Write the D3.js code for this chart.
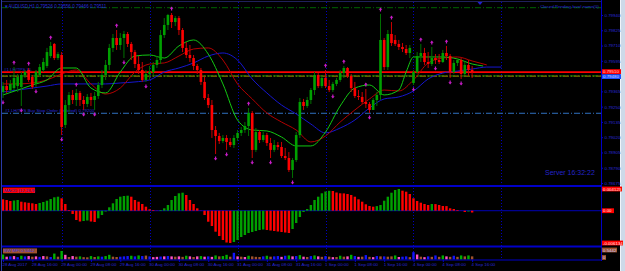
<!DOCTYPE html>
<html>
<head>
<meta charset="utf-8">
<script src="https://cdn.jsdelivr.net/npm/d3@7"></script>
<style>
  html, body { margin: 0; padding: 0; background: #000; overflow: hidden; }
  svg { display: block; }
</style>
</head>
<body>
<svg id="chart"></svg>
<script>
// AUDUSD H1, bar 0 = 28 Aug 2017 08:00 ... bar 128 = 4 Sep 2017 16:00
var open = [0.79360,0.79405,0.79375,0.79390,0.79405,0.79398,0.79488,0.79526,0.79473,0.79421,
0.79488,0.79526,0.79556,0.79631,0.79722,0.79616,0.79639,0.79112,0.79262,0.79338,
0.79300,0.79353,0.79300,0.79270,0.79323,0.79300,0.79330,0.79413,0.79488,0.79564,
0.79692,0.79767,0.79714,0.79767,0.79797,0.79722,0.79661,0.79571,0.79526,0.79451,
0.79496,0.79511,0.79564,0.79601,0.79789,0.79865,0.79940,0.79887,0.79917,0.79827,
0.79692,0.79639,0.79616,0.79556,0.79526,0.79436,0.79315,0.79262,0.79074,0.79029,
0.78991,0.79014,0.78984,0.78961,0.79014,0.79052,0.79074,0.79104,0.79202,0.78924,
0.79059,0.78999,0.79036,0.78976,0.78924,0.78961,0.78946,0.78878,0.78863,0.78773,
0.78848,0.79036,0.79285,0.79255,0.79300,0.79375,0.79488,0.79405,0.79466,0.79405,
0.79375,0.79421,0.79451,0.79503,0.79541,0.79481,0.79390,0.79330,0.79323,0.79285,
0.79270,0.79225,0.79300,0.79338,0.79752,0.79548,0.79797,0.79752,0.79722,0.79699,
0.79684,0.79654,0.79428,0.79511,0.79631,0.79654,0.79586,0.79571,0.79616,0.79601,
0.79586,0.79654,0.79631,0.79511,0.79579,0.79601,0.79496,0.79564,0.79526];
var high = [0.79436,0.79451,0.79451,0.79548,0.79496,0.79511,0.79526,0.79541,0.79488,0.79526,
0.79571,0.79616,0.79692,0.79737,0.79729,0.79661,0.79661,0.79300,0.79360,0.79375,
0.79383,0.79368,0.79330,0.79345,0.79353,0.79360,0.79436,0.79526,0.79601,0.79722,
0.79797,0.79827,0.79804,0.79820,0.79812,0.79737,0.79677,0.79631,0.79586,0.79526,
0.79556,0.79586,0.79631,0.79827,0.79917,0.79948,0.79955,0.79932,0.79932,0.79842,
0.79737,0.79714,0.79639,0.79571,0.79541,0.79473,0.79345,0.79300,0.79104,0.79052,
0.79036,0.79036,0.79014,0.79036,0.79074,0.79097,0.79134,0.79240,0.79217,0.79089,
0.79074,0.79059,0.79052,0.79014,0.78999,0.78984,0.78984,0.78939,0.78908,0.78863,
0.79059,0.79315,0.79308,0.79323,0.79390,0.79511,0.79503,0.79481,0.79526,0.79451,
0.79436,0.79466,0.79526,0.79556,0.79548,0.79496,0.79436,0.79375,0.79360,0.79383,
0.79285,0.79315,0.79360,0.79948,0.79767,0.79827,0.79887,0.79789,0.79752,0.79729,
0.79714,0.79714,0.79526,0.79661,0.79722,0.79692,0.79661,0.79699,0.79646,0.79646,
0.79677,0.79707,0.79646,0.79601,0.79616,0.79616,0.79586,0.79601,0.79556];
var low = [0.79315,0.79353,0.79360,0.79375,0.79360,0.79255,0.79466,0.79436,0.79383,0.79398,
0.79473,0.79511,0.79541,0.79616,0.79601,0.79601,0.79036,0.79089,0.79210,0.79270,
0.79255,0.79255,0.79225,0.79247,0.79255,0.79225,0.79308,0.79390,0.79451,0.79526,
0.79661,0.79677,0.79677,0.79616,0.79699,0.79601,0.79541,0.79496,0.79436,0.79436,
0.79451,0.79488,0.79541,0.79571,0.79767,0.79827,0.79842,0.79857,0.79789,0.79661,
0.79616,0.79586,0.79526,0.79496,0.79413,0.79300,0.79240,0.79014,0.78893,0.78969,
0.78976,0.78924,0.78946,0.78939,0.78991,0.79029,0.79052,0.79029,0.78863,0.78908,
0.78976,0.78984,0.78954,0.78863,0.78908,0.78924,0.78863,0.78848,0.78758,0.78713,
0.78833,0.79014,0.79225,0.79240,0.79270,0.79338,0.79390,0.79390,0.79390,0.79360,
0.79360,0.79405,0.79436,0.79466,0.79466,0.79360,0.79315,0.79300,0.79270,0.79240,
0.79202,0.79225,0.79255,0.79300,0.79526,0.79526,0.79707,0.79707,0.79677,0.79661,
0.79639,0.79616,0.79413,0.79496,0.79586,0.79564,0.79541,0.79556,0.79571,0.79571,
0.79579,0.79601,0.79466,0.79496,0.79556,0.79458,0.79488,0.79481,0.79466];
var close = [0.79405,0.79375,0.79421,0.79466,0.79473,0.79488,0.79511,0.79451,0.79398,0.79511,
0.79548,0.79586,0.79661,0.79707,0.79616,0.79646,0.79097,0.79262,0.79338,0.79300,
0.79353,0.79300,0.79270,0.79323,0.79300,0.79330,0.79413,0.79488,0.79564,0.79692,
0.79767,0.79714,0.79767,0.79797,0.79722,0.79661,0.79571,0.79526,0.79451,0.79496,
0.79511,0.79564,0.79601,0.79789,0.79865,0.79940,0.79887,0.79917,0.79827,0.79692,
0.79639,0.79616,0.79556,0.79526,0.79436,0.79315,0.79262,0.79074,0.79029,0.78991,
0.79014,0.78984,0.78961,0.79014,0.79052,0.79074,0.79104,0.79202,0.78924,0.79059,
0.78999,0.79036,0.78976,0.78924,0.78961,0.78946,0.78878,0.78863,0.78773,0.78848,
0.79036,0.79285,0.79255,0.79300,0.79375,0.79488,0.79405,0.79466,0.79405,0.79375,
0.79421,0.79451,0.79503,0.79541,0.79481,0.79390,0.79330,0.79323,0.79285,0.79270,
0.79225,0.79300,0.79338,0.79752,0.79548,0.79797,0.79729,0.79722,0.79699,0.79684,
0.79654,0.79692,0.79511,0.79631,0.79654,0.79586,0.79571,0.79616,0.79601,0.79586,
0.79654,0.79631,0.79511,0.79579,0.79601,0.79496,0.79564,0.79526,0.79511];

// alligator lines, read every few bars (jaw/teeth/lips are drawn shifted forward)
var jawIdx = [0,4,8,12,16,20,24,28,32,36,40,44,48,52,56,60,64,68,72,76,80,84,88,92,96,100,104,108,112,116,120,124,128,132,136];
var jawVal = [0.79360,0.79375,0.79390,0.79405,0.79421,0.79421,0.79421,0.79421,0.79428,0.79436,
0.79451,0.79511,0.79541,0.79579,0.79631,0.79654,0.79601,0.79458,0.79353,0.79262,
0.79195,0.79119,0.79052,0.79089,0.79149,0.79240,0.79308,0.79323,0.79368,0.79458,
0.79503,0.79518,0.79533,0.79548,0.79548];
var teethIdx = [0,4,8,12,16,20,24,28,32,36,40,44,48,52,56,60,64,68,72,76,80,84,88,92,96,100,104,108,112,116,120,124,128,132];
var teethVal = [0.79421,0.79421,0.79428,0.79451,0.79496,0.79526,0.79421,0.79345,0.79390,0.79511,
0.79571,0.79579,0.79631,0.79684,0.79692,0.79601,0.79421,0.79308,0.79202,0.79134,
0.79074,0.78984,0.79029,0.79134,0.79225,0.79308,0.79375,0.79368,0.79451,0.79579,
0.79616,0.79624,0.79594,0.79564];
var lipsIdx = [0,4,8,12,16,20,24,28,32,36,40,44,48,52,56,60,64,68,72,76,80,84,88,92,96,100,104,108,110,112,116,120,124,128,131];
var lipsVal = [0.79338,0.79375,0.79413,0.79451,0.79541,0.79541,0.79390,0.79353,0.79511,0.79631,
0.79639,0.79616,0.79707,0.79752,0.79646,0.79421,0.79149,0.79074,0.79067,0.79021,
0.78954,0.78954,0.79059,0.79255,0.79390,0.79413,0.79338,0.79375,0.79511,0.79624,
0.79624,0.79624,0.79609,0.79571,0.79556];

var fractalUp = [3,7,13,20,31,46,67,88,93,99,103,106,114,117,121];
var fractalDown = [0,5,9,16,22,25,33,39,58,61,68,73,79,90,100,112,118,122,125];

var macd = [0.002166,0.002033,0.001843,0.001938,0.002033,0.00171,0.001596,0.001501,0.001406,0.001273,
0.001463,0.001653,0.0019,0.002223,0.002546,0.00266,0.002356,0.001273,0.000133,-0.000627,
-0.001767,-0.002052,-0.001957,-0.001862,-0.002052,-0.002147,-0.001444,-0.000817,-0.000152,0.000646,
0.001406,0.002223,0.00266,0.002793,0.00285,0.00266,0.002033,0.00171,0.001273,0.00076,
0.000266,0.000133,0.000038,0.000133,0.000456,0.001083,0.002033,0.002793,0.003306,0.00342,
0.002983,0.002033,0.001273,0.000456,0.000038,-0.000817,-0.00209,-0.002907,-0.00399,-0.004807,
-0.005567,-0.006042,-0.006134,-0.005947,-0.005567,-0.004997,-0.004617,-0.004237,-0.004047,-0.003857,
-0.003667,-0.003572,-0.003667,-0.003762,-0.003857,-0.003952,-0.004047,-0.004142,-0.004237,-0.003477,
-0.002337,-0.001197,-0.000247,0.000323,0.001083,0.002033,0.00266,0.003306,0.003648,0.003781,
0.003743,0.003458,0.003306,0.003287,0.003173,0.002983,0.00266,0.002166,0.00171,0.001216,
0.000893,0.00076,0.000874,0.001083,0.0019,0.00266,0.00342,0.003933,0.004123,0.0038,
0.00361,0.003173,0.002356,0.001843,0.00152,0.001273,0.001083,0.001273,0.001254,0.001083,
0.000893,0.000874,0.000456,0.000323,0.000133,0.000019,-0.000247,-0.000152,-0.000342];

var mfi = [0.32,0.18,0.2,0.22,0.15,0.24,0.2,0.22,0.18,0.2,
0.17,0.22,0.2,0.16,0.38,0.18,0.5442,0.3,0.16,0.22,
0.18,0.2,0.15,0.14,0.22,0.16,0.2,0.18,0.22,0.3,
0.18,0.16,0.18,0.2,0.22,0.24,0.2,0.26,0.22,0.25,
0.2,0.15,0.17,0.19,0.2,0.22,0.2,0.18,0.2,0.17,
0.24,0.2,0.16,0.2,0.22,0.18,0.2,0.17,0.26,0.2,
0.22,0.3,0.18,0.43,0.2,0.18,0.16,0.24,0.2,0.17,
0.16,0.2,0.24,0.18,0.2,0.22,0.17,0.24,0.26,0.2,
0.22,0.28,0.18,0.16,0.22,0.26,0.2,0.17,0.22,0.18,
0.15,0.16,0.24,0.18,0.2,0.3,0.22,0.17,0.18,0.28,
0.17,0.15,0.22,0.2,0.2,0.18,0.2,0.26,0.16,0.18,
0.2,0.15,0.47,0.32,0.18,0.15,0.2,0.17,0.26,0.17,
0.26,0.2,0.17,0.24,0.17,0.26,0.2,0.26,0.2];
// g = green, n = fade (brown), b = fake (blue), p = squat (pink)
var mfiType = ("gpbpbgbpnp"+"bpnbgngpnp"+"ngnngngbgg"+"nnbbbgbgbn"+"bppbpbpnpn"+"gpnpgpbpgn"+
  "ggnbpnpgnn"+"nbgnbbpbgp"+"bgpnbgpnbn"+"pngnpgbpnb"+"npbnbnngpb"+"bnbpnpbnbn"+"gpnbngngn").split("");

var priceTicks = [0.79940,0.79825,0.79710,0.79595,0.79480,0.79365,0.79250,0.79135,0.79020,0.78905,0.78790,0.78675];
var timeIdx = [0,8,16,24,32,40,48,56,64,72,80,88,96,104,112,120,128];
var timeLabels = ["28 Aug 2017","28 Aug 16:00","29 Aug 00:00","29 Aug 08:00","29 Aug 16:00","30 Aug 00:00",
  "30 Aug 08:00","30 Aug 16:00","31 Aug 00:00","31 Aug 08:00","31 Aug 16:00","1 Sep 00:00",
  "1 Sep 08:00","1 Sep 16:00","4 Sep 00:00","4 Sep 08:00","4 Sep 16:00"];
var daySeparators = [16,40,64,88,112,136];

var bidPrice = 0.79510;
var levelTop = 0.79995, levelPending = 0.79480, levelStop = 0.79200;
var macdMax = 0.004123, macdMin = -0.006134, mfiMax = 0.5442;

var W = 625, H = 271;
var L = 2, R = 601;
var mainTop = 2, mainBot = 185;
var mfiBot = 260;
var FONT = "'Liberation Sans', Arial, sans-serif";
var TXT = "#2828d8";
var fmt5 = d3.format(".5f");

var svg = d3.select("#chart").attr("width", W).attr("height", H);
svg.append("rect").attr("width", W).attr("height", H).attr("fill", "#000");

var x = d3.scaleLinear().domain([0, 163]).range([3, 600.4]);
var y = d3.scaleLinear().domain([0.78675, 0.79940]).range([183, 15]);
var ym = d3.scaleLinear().domain([macdMin, macdMax]).range([243, 189]);
var yv = d3.scaleLinear().domain([0, mfiMax]).range([259.5, 251]);

svg.append("clipPath").attr("id", "clipMain").append("rect")
  .attr("x", L).attr("y", mainTop).attr("width", R - L).attr("height", mainBot - mainTop);

// day separators through all three windows
svg.append("g").selectAll("line").data(daySeparators).join("line")
  .attr("x1", d => Math.round(x(d)) + 0.5).attr("x2", d => Math.round(x(d)) + 0.5)
  .attr("y1", mainTop).attr("y2", mfiBot)
  .attr("stroke", "#0000c0").attr("stroke-dasharray", "1,2");

var main = svg.append("g").attr("clip-path", "url(#clipMain)");

// horizontal objects
function hline(p, color, dash, w, off) {
  main.append("line").attr("x1", L).attr("x2", R).attr("y1", y(p)).attr("y2", y(p))
    .attr("stroke", color).attr("stroke-width", w || 1)
    .attr("stroke-dasharray", dash || null).attr("stroke-dashoffset", off || 0);
}
hline(levelTop, "#006400", "6,2,1,2");
hline(levelStop, "#2f70c0", "6,2,1,2");
hline(levelPending, "#8c7000", "6,2,1,2", 1.2);
hline(levelPending + 0.00001, "#2e8b00", "6,2,1,2", 1, 4);
hline(bidPrice, "#ff0000", null, 1.8);

main.append("text").attr("x", 4).attr("y", y(bidPrice) - 0.8).text("#1 LH/TPS SL")
  .attr("fill", TXT).attr("font-size", 4.4).attr("font-family", FONT);
main.append("text").attr("x", 5).attr("y", y(levelStop) - 1.2).text("#1 LH/TPS Buy Stop Order (Deleted) " + fmt5(levelStop))
  .attr("fill", TXT).attr("font-size", 4.4).attr("font-family", FONT);

// alligator
var lineGen = d3.line().x(d => x(d[0])).y(d => y(d[1])).curve(d3.curveMonotoneX);
[[jawIdx, jawVal, "#1616d0"], [teethIdx, teethVal, "#b40000"], [lipsIdx, lipsVal, "#12c812"]].forEach(function(s) {
  main.append("path").attr("d", lineGen(d3.zip(s[0], s[1])))
    .attr("fill", "none").attr("stroke", s[2]).attr("stroke-width", 1);
});

// candles
var bars = d3.range(open.length);
var up = i => close[i] >= open[i];
main.append("g").selectAll("line").data(bars).join("line")
  .attr("x1", i => x(i)).attr("x2", i => x(i))
  .attr("y1", i => y(high[i])).attr("y2", i => y(low[i]))
  .attr("stroke", i => up(i) ? "#007000" : "#c80000").attr("stroke-width", 1);
main.append("g").selectAll("rect").data(bars).join("rect")
  .attr("x", i => x(i) - 1.3).attr("width", 2.6)
  .attr("y", i => y(Math.max(open[i], close[i])))
  .attr("height", i => Math.max(1, Math.abs(y(open[i]) - y(close[i]))))
  .attr("fill", i => up(i) ? "#00a000" : "#ff0000");

// fractals, small arrows above highs / below lows
var arrow = "M0,-2L1.8,0.3L0.6,0.3L0.6,2L-0.6,2L-0.6,0.3L-1.8,0.3Z";
main.append("g").selectAll("path").data(fractalUp).join("path")
  .attr("transform", i => "translate(" + x(i) + "," + (y(high[i]) - 4.5) + ")")
  .attr("d", arrow).attr("fill", "#c81cc8");
main.append("g").selectAll("path").data(fractalDown).join("path")
  .attr("transform", i => "translate(" + x(i) + "," + (y(low[i]) + 4.5) + ") rotate(180)")
  .attr("d", arrow).attr("fill", "#c81cc8");

// MACD window
svg.append("line").attr("x1", L).attr("x2", R).attr("y1", ym(0)).attr("y2", ym(0))
  .attr("stroke", "#0000b4").attr("stroke-width", 1);
svg.append("g").selectAll("rect").data(bars).join("rect")
  .attr("x", i => x(i) - 1.2).attr("width", 2.4)
  .attr("y", i => Math.min(ym(0), ym(macd[i])))
  .attr("height", i => Math.abs(ym(macd[i]) - ym(0)))
  .attr("fill", i => (i > 0 && macd[i] > macd[i - 1]) ? "#00a000" : "#ff0000");

// BW MFI window
var mfiColor = {g: "#00b000", n: "#a0522d", b: "#1414ff", p: "#ff50c8"};
svg.append("g").selectAll("rect").data(bars).join("rect")
  .attr("x", i => x(i) - 1.2).attr("width", 2.4)
  .attr("y", i => yv(mfi[i])).attr("height", i => yv(0) - yv(mfi[i]))
  .attr("fill", i => mfiColor[mfiType[i]]);

// window frames
svg.append("rect").attr("x", L).attr("y", 185).attr("width", R - L).attr("height", 2).attr("fill", "#0000c8");
svg.append("rect").attr("x", L).attr("y", 245.5).attr("width", R - L).attr("height", 2).attr("fill", "#0000c8");
svg.append("line").attr("x1", L).attr("x2", R).attr("y1", 260).attr("y2", 260).attr("stroke", "#0000c8").attr("stroke-width", 1.2);
svg.append("line").attr("x1", R + 0.5).attr("x2", R + 0.5).attr("y1", 0).attr("y2", 261).attr("stroke", "#0000c8");
svg.append("line").attr("x1", 1.5).attr("x2", 1.5).attr("y1", 0).attr("y2", H).attr("stroke", "#2a3aa8");
svg.append("line").attr("x1", L).attr("x2", R).attr("y1", 1.5).attr("y2", 1.5).attr("stroke", "#20205a");
svg.append("rect").attr("x", 620).attr("y", 0).attr("width", 5).attr("height", H).attr("fill", "#cdd9e8");
svg.append("line").attr("x1", 620.5).attr("x2", 620.5).attr("y1", 0).attr("y2", H).attr("stroke", "#f0f4fa");
// chart shift marker
svg.append("path").attr("d", "M477.5,2L482.5,2L480,5Z").attr("fill", "#2020d0");

// price axis
var pAxis = svg.append("g").attr("transform", "translate(" + R + ",0)")
  .call(d3.axisRight(y).tickValues(priceTicks).tickSize(2).tickFormat(fmt5));
pAxis.select(".domain").remove();
pAxis.selectAll("line").attr("stroke", "#0000c8");
pAxis.selectAll("text").attr("x", 3.5).attr("fill", TXT).attr("font-size", 4.4).attr("font-family", FONT);

function tag(yc, w, fill, color, label) {
  svg.append("rect").attr("x", R + 1).attr("y", yc - 2.4).attr("width", w).attr("height", 4.8).attr("fill", fill);
  svg.append("text").attr("x", R + 2).attr("y", yc + 1.6).text(label)
    .attr("fill", color).attr("font-size", 4.4).attr("font-family", FONT);
}
tag(y(levelPending) + 0.5, 19, "#1e50ff", "#c8d8ff", fmt5(levelPending));
tag(y(bidPrice) - 0.5, 19, "#ff0000", "#ffd0d0", fmt5(bidPrice));
tag(ym(macdMax), 20, "#ff0000", "#ffe0e0", macdMax.toFixed(6));
tag(ym(0), 12, "#ff0000", "#ffe0e0", "0.00");
tag(ym(macdMin), 21, "#ff0000", "#ffe0e0", macdMin.toFixed(6));
tag(250, 15, "#a0522d", "#c0c8ff", String(mfiMax));
tag(257.5, 4, "#a0522d", "#c0c8ff", "0");

// time axis
var tAxis = svg.append("g").attr("transform", "translate(0," + mfiBot + ")")
  .call(d3.axisBottom(x).tickValues(timeIdx).tickSize(2).tickFormat((d, k) => timeLabels[k]));
tAxis.select(".domain").remove();
tAxis.selectAll("line").attr("stroke", "#0000c8");
tAxis.selectAll("text").attr("text-anchor", "start").attr("x", -1).attr("y", 3).attr("dy", "0.71em")
  .attr("fill", TXT).attr("font-size", 4.4).attr("font-family", FONT);

// sub window labels
svg.append("rect").attr("x", 3).attr("y", 187.6).attr("width", 32).attr("height", 5.4).attr("fill", "#ff0000");
svg.append("text").attr("x", 4).attr("y", 191.9).text("MACD (12,26,9)")
  .attr("fill", "#2020b0").attr("font-size", 4.4).attr("font-family", FONT);
svg.append("rect").attr("x", 3).attr("y", 248.4).attr("width", 34).attr("height", 5).attr("fill", "#a0522d");
svg.append("text").attr("x", 4).attr("y", 252.4).text("BW MFI " + mfiMax)
  .attr("fill", "#3a3ae0").attr("font-size", 4.4).attr("font-family", FONT);

// header texts
var last = open.length - 1;
svg.append("text").attr("x", 4).attr("y", 7.6)
  .text("\u25BCAUDUSD,H1  " + [open[last], high[last], low[last], close[last]].map(fmt5).join(" "))
  .attr("fill", TXT).attr("font-size", 4.6).attr("font-family", FONT);
svg.append("text").attr("x", 599).attr("y", 7.6).attr("text-anchor", "end").text("Closed Pending level name(0)")
  .attr("fill", TXT).attr("font-size", 4.4).attr("font-family", FONT);
svg.append("text").attr("x", 545).attr("y", 175).text("Server  16:32:22")
  .attr("fill", "#2424c8").attr("font-size", 7).attr("font-family", FONT);
</script>
</body>
</html>
